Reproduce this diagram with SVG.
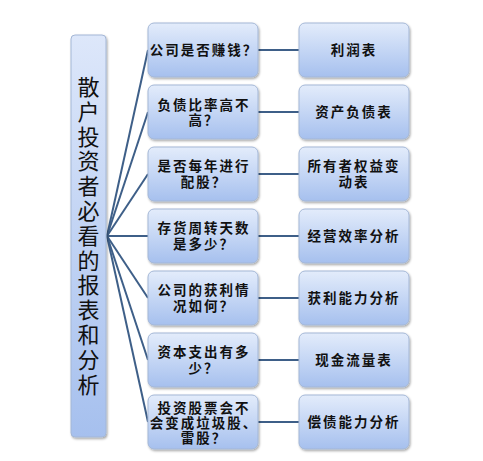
<svg xmlns="http://www.w3.org/2000/svg" width="483" height="461" viewBox="0 0 483 461">
<defs>
<linearGradient id="g" x1="0" y1="0" x2="0" y2="1">
<stop offset="0" stop-color="#e3ecfb"/>
<stop offset="1" stop-color="#a6c0ee"/>
</linearGradient>
<linearGradient id="gl" x1="0" y1="0" x2="0" y2="1">
<stop offset="0" stop-color="#dde7fa"/>
<stop offset="1" stop-color="#a6c0ee"/>
</linearGradient>
<filter id="sh" x="-10%" y="-10%" width="130%" height="130%">
<feDropShadow dx="1" dy="1.5" stdDeviation="1.2" flood-color="#000" flood-opacity="0.35"/>
</filter>
</defs>
<style>
.box{fill:url(#g);stroke:#a4b7d6;stroke-width:1;filter:url(#sh)}
.lbox{fill:url(#gl);stroke:#a4b7d6;stroke-width:1;filter:url(#sh)}
.t{font-family:"Noto Sans CJK SC","Noto Sans",sans-serif;font-size:13.5px;font-weight:bold;fill:#111;text-anchor:middle;letter-spacing:2px}
.lt{font-family:"Noto Sans CJK SC","Noto Sans",sans-serif;font-size:22px;fill:#111;text-anchor:middle}
.c{stroke:#3e5f88;stroke-width:2;fill:none}
</style>
<rect width="483" height="461" fill="#fff"/>
<g id="connectors">
<line class="c" x1="107" y1="236" x2="148" y2="50"/>
<line class="c" x1="107" y1="236" x2="148" y2="112"/>
<line class="c" x1="107" y1="236" x2="148" y2="174"/>
<line class="c" x1="107" y1="236" x2="148" y2="236"/>
<line class="c" x1="107" y1="236" x2="148" y2="298"/>
<line class="c" x1="107" y1="236" x2="148" y2="360"/>
<line class="c" x1="107" y1="236" x2="148" y2="422"/>
<line class="c" x1="258" y1="50" x2="299" y2="50"/>
<line class="c" x1="258" y1="112" x2="299" y2="112"/>
<line class="c" x1="258" y1="174" x2="299" y2="174"/>
<line class="c" x1="258" y1="236" x2="299" y2="236"/>
<line class="c" x1="258" y1="298" x2="299" y2="298"/>
<line class="c" x1="258" y1="360" x2="299" y2="360"/>
<line class="c" x1="258" y1="422" x2="299" y2="422"/>
</g>
<g id="root">
<rect class="lbox" x="71" y="35" width="35" height="402" rx="4"/>
<text class="lt"><tspan x="88.5" y="95">散</tspan><tspan x="88.5" dy="24.8">户</tspan><tspan x="88.5" dy="24.8">投</tspan><tspan x="88.5" dy="24.8">资</tspan><tspan x="88.5" dy="24.8">者</tspan><tspan x="88.5" dy="24.8">必</tspan><tspan x="88.5" dy="24.8">看</tspan><tspan x="88.5" dy="24.8">的</tspan><tspan x="88.5" dy="24.8">报</tspan><tspan x="88.5" dy="24.8">表</tspan><tspan x="88.5" dy="24.8">和</tspan><tspan x="88.5" dy="24.8">分</tspan><tspan x="88.5" dy="24.8">析</tspan></text>
</g>
<g id="q1"><rect class="box" x="148" y="23" width="110" height="54" rx="6"/><text class="t" x="204" y="55">公司是否赚钱？</text></g>
<g id="q2"><rect class="box" x="148" y="85" width="110" height="54" rx="6"/><text class="t"><tspan x="204" y="110">负债比率高不</tspan><tspan x="204" dy="15">高？</tspan></text></g>
<g id="q3"><rect class="box" x="148" y="147" width="110" height="54" rx="6"/><text class="t"><tspan x="204" y="171">是否每年进行</tspan><tspan x="204" dy="16">配股？</tspan></text></g>
<g id="q4"><rect class="box" x="148" y="209" width="110" height="54" rx="6"/><text class="t"><tspan x="204" y="233">存货周转天数</tspan><tspan x="204" dy="16">是多少？</tspan></text></g>
<g id="q5"><rect class="box" x="148" y="271" width="110" height="54" rx="6"/><text class="t"><tspan x="204" y="295">公司的获利情</tspan><tspan x="204" dy="16">况如何？</tspan></text></g>
<g id="q6"><rect class="box" x="148" y="333" width="110" height="54" rx="6"/><text class="t"><tspan x="204" y="357">资本支出有多</tspan><tspan x="204" dy="16">少？</tspan></text></g>
<g id="q7"><rect class="box" x="148" y="395" width="110" height="54" rx="6"/><text class="t"><tspan x="204" y="413">投资股票会不</tspan><tspan x="204" dy="15">会变成垃圾股、</tspan><tspan x="204" dy="15">雷股？</tspan></text></g>
<g id="r1"><rect class="box" x="299" y="23" width="110" height="54" rx="6"/><text class="t" x="354" y="55">利润表</text></g>
<g id="r2"><rect class="box" x="299" y="85" width="110" height="54" rx="6"/><text class="t" x="354" y="117">资产负债表</text></g>
<g id="r3"><rect class="box" x="299" y="147" width="110" height="54" rx="6"/><text class="t"><tspan x="354" y="171">所有者权益变</tspan><tspan x="354" dy="16">动表</tspan></text></g>
<g id="r4"><rect class="box" x="299" y="209" width="110" height="54" rx="6"/><text class="t" x="354" y="241">经营效率分析</text></g>
<g id="r5"><rect class="box" x="299" y="271" width="110" height="54" rx="6"/><text class="t" x="354" y="303">获利能力分析</text></g>
<g id="r6"><rect class="box" x="299" y="333" width="110" height="54" rx="6"/><text class="t" x="354" y="365">现金流量表</text></g>
<g id="r7"><rect class="box" x="299" y="395" width="110" height="54" rx="6"/><text class="t" x="354" y="427">偿债能力分析</text></g>
</svg>
